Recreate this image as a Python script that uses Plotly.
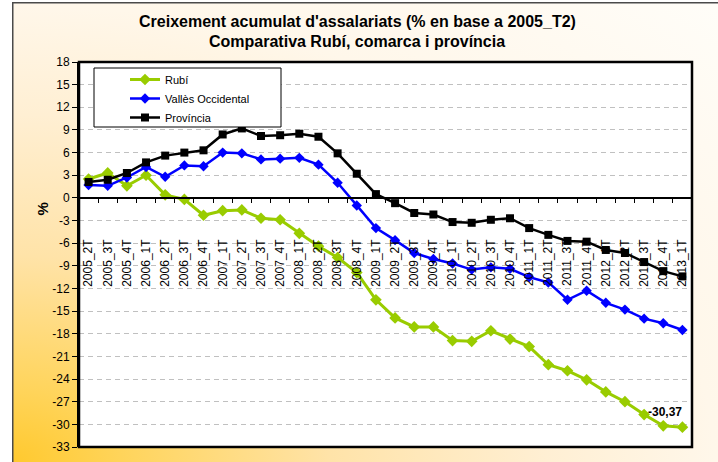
import base64
import plotly.graph_objects as go

# ---------------- data ----------------
categories = ["2005_2T", "2005_3T", "2005_4T",
              "2006_1T", "2006_2T", "2006_3T", "2006_4T",
              "2007_1T", "2007_2T", "2007_3T", "2007_4T",
              "2008_1T", "2008_2T", "2008_3T", "2008_4T",
              "2009_1T", "2009_2T", "2009_3T", "2009_4T",
              "2010_1T", "2010_2T", "2010_3T", "2010_4T",
              "2011_1T", "2011_2T", "2011_3T", "2011_4T",
              "2012_1T", "2012_2T", "2012_3T", "2012_4T",
              "2013_1T"]

rubi = [2.5, 3.3, 1.6, 3.0, 0.4, -0.2, -2.3, -1.7, -1.6, -2.7, -2.9,
        -4.7, -6.4, -7.9, -9.9, -13.5, -15.9, -17.1, -17.1, -18.9,
        -19.0, -17.6, -18.7, -19.7, -22.1, -22.9, -24.1, -25.7,
        -27.0, -28.7, -30.2, -30.37]

valles = [1.7, 1.6, 2.7, 4.1, 2.8, 4.3, 4.2, 6.0, 5.9, 5.1, 5.2,
          5.3, 4.4, 2.0, -1.0, -4.0, -5.6, -7.3, -8.1, -8.7,
          -9.5, -9.2, -9.4, -10.5, -11.2, -13.5, -12.3, -13.9,
          -14.8, -16.0, -16.6, -17.5]

provincia = [2.1, 2.4, 3.3, 4.7, 5.6, 6.0, 6.3, 8.4, 9.2, 8.2, 8.3,
             8.5, 8.1, 5.9, 3.2, 0.5, -0.7, -2.0, -2.2, -3.2,
             -3.3, -2.9, -2.7, -4.0, -4.9, -5.7, -5.8, -6.9,
             -7.3, -8.5, -9.7, -10.4]

series_names = ["Rubí", "Vallès Occidental", "Província"]
y_ticks = list(range(-33, 19, 3))
last_label = "-30,37"

title_l1 = "Creixement acumulat d'assalariats (% en base a 2005_T2)"
title_l2 = "Comparativa Rubí, comarca i província"

# ---------------- layout geometry ----------------
W, H = 718, 462
L, R, T, B = 79, 26, 62, 15
PW, PH = W - L - R, H - T - B
FONT = "Liberation Sans, Arial, sans-serif"


def px_x(px):
    return (px - L) / PW


def px_y(py):
    return (H - B - py) / PH


# gradient background (Excel-like) as an inline SVG image
bw, bh = W - 12, H - 2
svg = f'''<svg xmlns="http://www.w3.org/2000/svg" width="{bw}" height="{bh}" viewBox="0 0 {bw} {bh}">
<defs><radialGradient id="g" cx="0" cy="1" r="1.4" gradientUnits="objectBoundingBox">
<stop offset="0" stop-color="#FFC92E"/>
<stop offset="0.11" stop-color="#FFD45A"/>
<stop offset="0.32" stop-color="#FFE3A8"/>
<stop offset="0.54" stop-color="#FFEFD3"/>
<stop offset="0.71" stop-color="#FFF7EA"/>
<stop offset="1" stop-color="#FFFDF8"/>
</radialGradient></defs>
<rect x="0" y="0" width="{bw}" height="{bh}" fill="url(#g)"/>
<path d="M0.75,{bh} L0.75,0.75 L{bw},0.75" fill="none" stroke="#4a4a4a" stroke-width="1.5"/>
</svg>'''
svg_uri = "data:image/svg+xml;base64," + base64.b64encode(svg.encode()).decode()

fig = go.Figure()

styles = [
    dict(color="#99CC00", symbol="diamond", size=9, width=3),
    dict(color="#0000FF", symbol="diamond", size=8, width=2.5),
    dict(color="#000000", symbol="square", size=8, width=2.5),
]
for name, vals, st in zip(series_names, [rubi, valles, provincia], styles):
    fig.add_trace(go.Scatter(
        x=categories, y=vals, name=name, mode="lines+markers",
        line=dict(color=st["color"], width=st["width"]),
        marker=dict(color=st["color"], symbol=st["symbol"], size=st["size"]),
    ))

fig.update_layout(
    width=W, height=H,
    margin=dict(l=L, r=R, t=T, b=B, pad=0, autoexpand=False),
    paper_bgcolor="white",
    plot_bgcolor="rgba(0,0,0,0)",
    font=dict(family=FONT, size=12, color="black"),
    showlegend=True,
    legend=dict(
        x=px_x(125), y=px_y(65), xanchor="left", yanchor="top",
        bgcolor="rgba(0,0,0,0)", borderwidth=0,
        font=dict(family=FONT, size=11, color="black"),
        tracegroupgap=0,
    ),
    xaxis=dict(
        type="category", range=[-0.5, len(categories) - 0.5],
        anchor="free", position=33 / 51, automargin=False,
        showline=True, linecolor="black", linewidth=1.5,
        ticks="outside", ticklen=4, tickcolor="black", tickwidth=1,
        tickson="boundaries", tickangle=-90,
        ticklabelstandoff=36,
        tickfont=dict(family=FONT, size=12, color="black"),
        showgrid=False, zeroline=False, fixedrange=True,
    ),
    yaxis=dict(
        range=[-33, 18], domain=[0, 1], automargin=False,
        tickmode="array", tickvals=y_ticks, ticktext=[str(v) for v in y_ticks],
        ticks="outside", ticklen=5, tickcolor="black",
        showline=True, linecolor="black", linewidth=2,
        showgrid=True, gridcolor="#C0C0C0", gridwidth=1, griddash="5px,4px",
        zeroline=False, fixedrange=True,
        tickfont=dict(family=FONT, size=12, color="black"),
    ),
    images=[dict(
        source=svg_uri, xref="paper", yref="paper",
        x=px_x(12), y=px_y(2), sizex=bw / PW, sizey=bh / PH,
        xanchor="left", yanchor="top", sizing="stretch", layer="below",
    )],
    shapes=[
        # white plot area
        dict(type="rect", xref="paper", yref="paper", x0=0, x1=1, y0=0, y1=1,
             fillcolor="white", line=dict(width=0), layer="below"),
        # plot area border
        dict(type="rect", xref="paper", yref="paper", x0=0, x1=1, y0=0, y1=1,
             fillcolor="rgba(0,0,0,0)", line=dict(color="black", width=2.5),
             layer="above"),
        # legend box
        dict(type="rect", xref="paper", yref="paper",
             x0=px_x(94), x1=px_x(281), y0=px_y(127), y1=px_y(68),
             fillcolor="white", line=dict(color="black", width=1),
             layer="above"),
    ],
    annotations=[
        dict(text=f"<b>{title_l1}</b>", xref="paper", yref="paper",
             x=px_x(357), y=px_y(21.5), xanchor="center", yanchor="middle",
             showarrow=False, font=dict(family=FONT, size=16, color="black")),
        dict(text=f"<b>{title_l2}</b>", xref="paper", yref="paper",
             x=px_x(357), y=px_y(41), xanchor="center", yanchor="middle",
             showarrow=False, font=dict(family=FONT, size=16, color="black")),
        dict(text="<b>%</b>", xref="paper", yref="paper",
             x=px_x(31), y=px_y(209), showarrow=False, textangle=-90,
             font=dict(family=FONT, size=15, color="black")),
        dict(text=f"<b>{last_label}</b>", x=categories[-1], y=rubi[-1],
             xref="x", yref="y", showarrow=False,
             xanchor="right", yanchor="bottom", xshift=2, yshift=6,
             font=dict(family=FONT, size=12, color="black")),
    ],
)

fig.write_html(
    "out.html",
    config={"displayModeBar": False},
    post_script="document.body.style.margin='0';document.body.style.overflow='hidden';",
)
